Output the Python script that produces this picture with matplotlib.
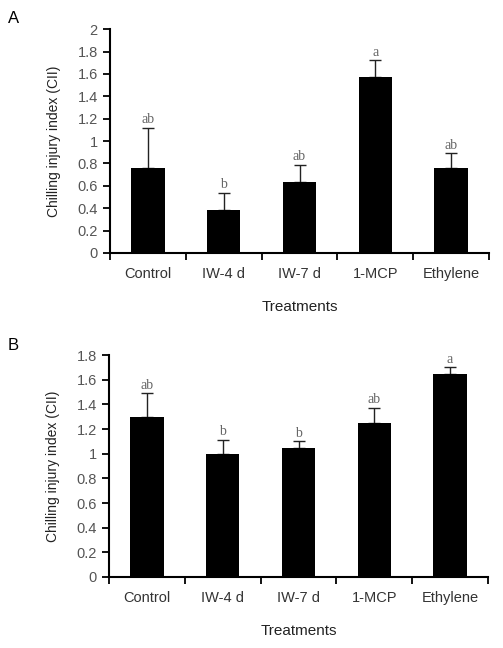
import numpy as np
import matplotlib
matplotlib.use('Agg')
from matplotlib import pyplot as plt
from matplotlib.ticker import FixedLocator

treatments = ['Control', 'IW-4 d', 'IW-7 d', '1-MCP', 'Ethylene']

cii_a = [0.76, 0.38, 0.63, 1.57, 0.76]
err_a = [0.36, 0.16, 0.16, 0.15, 0.13]
let_a = ['ab', 'b', 'ab', 'a', 'ab']

cii_b = [1.30, 1.00, 1.05, 1.25, 1.65]
err_b = [0.19, 0.11, 0.05, 0.12, 0.05]
let_b = ['ab', 'b', 'b', 'ab', 'a']

plt.rcParams['font.family'] = ['Liberation Sans', 'DejaVu Sans']
tick_col = '#555555'

fig = plt.figure(figsize=(5.03, 6.48), dpi=100)
ax_a = fig.add_axes([0.219, 0.6096, 0.753, 0.3454])
ax_b = fig.add_axes([0.217, 0.1096, 0.753, 0.3424])


def draw_panel(ax, vals, errs, letters, ymax, step):
    x = np.arange(len(treatments))
    ax.bar(x, vals, width=0.44, color='black', zorder=2)
    ax.errorbar(x, vals, yerr=[np.zeros(len(vals)), errs], fmt='none',
                ecolor='#222222', elinewidth=1, capsize=4, capthick=1, zorder=1)
    for xi, v, e, t in zip(x, vals, errs, letters):
        ax.text(xi, v + e + ymax * 0.008, t, ha='center', va='bottom',
                fontsize=10, color='#666666', family='Liberation Serif')
    ax.set_xlim(-0.5, len(treatments) - 0.5)
    ax.set_ylim(0, ymax)
    yt = np.arange(0, ymax + step / 2, step)
    ax.set_yticks(yt)
    ax.set_yticklabels(['%g' % round(v, 1) for v in yt])
    ax.xaxis.set_major_locator(FixedLocator(np.arange(-0.5, len(treatments), 1)))
    ax.set_xticklabels([])
    ax.set_xticks(x, minor=True)
    ax.set_xticklabels(treatments, minor=True)
    ax.tick_params(axis='x', which='major', direction='out', length=5, width=1.3)
    ax.tick_params(axis='x', which='minor', length=0, pad=10, labelsize=10.5,
                   labelcolor='#333333')
    ax.tick_params(axis='y', direction='out', length=5, width=1.3,
                   labelsize=10.5, labelcolor=tick_col, pad=4)
    for s in ['top', 'right']:
        ax.spines[s].set_visible(False)
    for s in ['left', 'bottom']:
        ax.spines[s].set_linewidth(1.5)
    ax.set_ylabel('Chilling injury index (CII)', fontsize=10, color='#222222',
                  labelpad=12)
    ax.set_xlabel('Treatments', fontsize=11, color='#222222', labelpad=14)


draw_panel(ax_a, cii_a, err_a, let_a, 2.0, 0.2)
draw_panel(ax_b, cii_b, err_b, let_b, 1.8, 0.2)

fig.text(0.016, 0.972, 'A', fontsize=12, va='center')
fig.text(0.016, 0.467, 'B', fontsize=12, va='center')

fig.savefig('out.png', dpi=100)
